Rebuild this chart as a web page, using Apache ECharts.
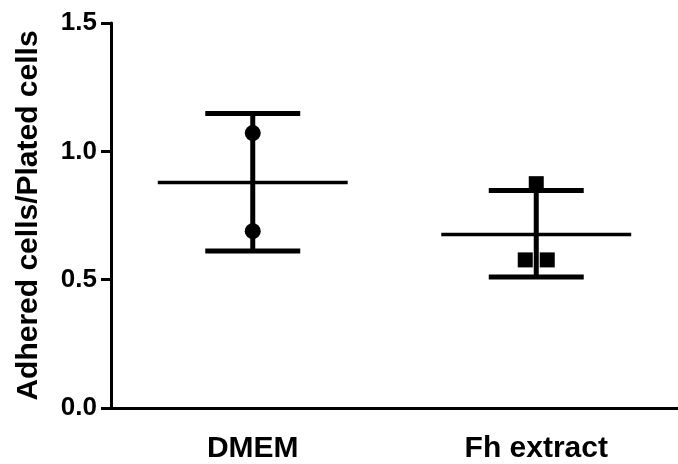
<!DOCTYPE html>
<html>
<head>
<meta charset="utf-8">
<script src="https://cdn.jsdelivr.net/npm/echarts@6/dist/echarts.min.js"></script>
<style>
html,body{margin:0;padding:0;background:#fff;}
#chart{width:678px;height:464px;}
</style>
</head>
<body>
<div id="chart"></div>
<script>
const categories = ['DMEM', 'Fh extract'];
const dmemPoints = [1.071, 0.689];
const fhPoints = [0.874, 0.577, 0.577];
const means = [0.879, 0.676];
const upperSD = [1.147, 0.847];
const lowerSD = [0.612, 0.510];
const yTicks = [0, 0.5, 1.0, 1.5];
const yTitle = 'Adhered cells/Plated cells';

const FONT = '"Liberation Sans", Arial, sans-serif';

function jittered(catIdx, values) {
  const counts = {};
  values.forEach(v => { counts[v] = (counts[v] || 0) + 1; });
  const seen = {};
  return values.map(v => {
    const n = counts[v];
    const k = seen[v] || 0;
    seen[v] = k + 1;
    const off = n > 1 ? (k - (n - 1) / 2) * 22 : 0;
    return { value: [catIdx, v], symbolOffset: [off, 0] };
  });
}

const errData = categories.map((c, i) => [i, means[i], lowerSD[i], upperSD[i]]);

const chart = echarts.init(document.getElementById('chart'));
chart.setOption({
  animation: false,
  backgroundColor: '#fff',
  grid: { left: 111, right: -8, top: 23, bottom: 55, containLabel: false },
  xAxis: {
    type: 'category',
    data: categories,
    axisLine: { lineStyle: { color: '#000', width: 3 } },
    axisTick: { alignWithLabel: true, length: 10, lineStyle: { color: '#000', width: 3 } },
    axisLabel: { color: '#000', fontFamily: FONT, fontWeight: 'bold', fontSize: 30, margin: 26 },
    splitLine: { show: false }
  },
  yAxis: {
    type: 'value',
    min: yTicks[0],
    max: yTicks[yTicks.length - 1],
    interval: 0.5,
    name: yTitle,
    nameLocation: 'middle',
    nameGap: 67,
    nameTextStyle: { color: '#000', fontFamily: FONT, fontWeight: 'bold', fontSize: 30 },
    axisLine: { show: true, lineStyle: { color: '#000', width: 3 } },
    axisTick: { show: true, length: 10, lineStyle: { color: '#000', width: 3 } },
    axisLabel: { color: '#000', fontFamily: FONT, fontWeight: 'bold', fontSize: 26, margin: 14,
      formatter: v => v.toFixed(1) },
    splitLine: { show: false }
  },
  series: [
    {
      type: 'custom',
      data: errData,
      renderItem: function (params, api) {
        const x = api.value(0);
        const band = api.size([1, 0])[0];
        const pm = api.coord([x, api.value(1)]);
        const pl = api.coord([x, api.value(2)]);
        const pu = api.coord([x, api.value(3)]);
        const capHalf = band * 0.1675;
        const meanHalf = band * 0.335;
        const st = { stroke: '#000', lineWidth: 5 };
        return {
          type: 'group',
          children: [
            { type: 'line', shape: { x1: pu[0], y1: pu[1], x2: pl[0], y2: pl[1] }, style: st },
            { type: 'line', shape: { x1: pu[0] - capHalf, y1: pu[1], x2: pu[0] + capHalf, y2: pu[1] }, style: st },
            { type: 'line', shape: { x1: pl[0] - capHalf, y1: pl[1], x2: pl[0] + capHalf, y2: pl[1] }, style: st },
            { type: 'line', shape: { x1: pm[0] - meanHalf, y1: pm[1], x2: pm[0] + meanHalf, y2: pm[1] }, style: { stroke: '#000', lineWidth: 3.5 } }
          ]
        };
      },
      z: 2
    },
    {
      type: 'scatter',
      data: jittered(0, dmemPoints),
      symbol: 'circle',
      symbolSize: 16,
      itemStyle: { color: '#000', opacity: 1 },
      z: 3
    },
    {
      type: 'scatter',
      data: jittered(1, fhPoints),
      symbol: 'rect',
      symbolSize: 15,
      itemStyle: { color: '#000', opacity: 1 },
      z: 3
    }
  ]
});
</script>
</body>
</html>
